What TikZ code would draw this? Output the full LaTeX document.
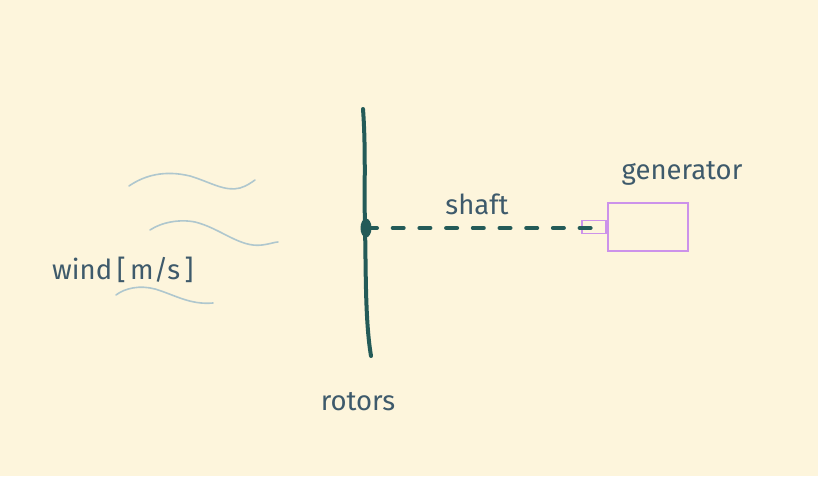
\documentclass[tikz,border=0pt]{standalone}
\usepackage{fontspec}
\setmainfont{Fira Sans}
\usetikzlibrary{shapes.geometric}
\definecolor{bg}{HTML}{FDF5DC}
\definecolor{txt}{HTML}{3E5A6B}
\definecolor{rotorc}{HTML}{245B58}
\definecolor{windc}{HTML}{AFC7CE}
\definecolor{genc}{HTML}{CC92EA}
\begin{document}
\begin{tikzpicture}[x=1pt,y=-1pt,
  lbl/.style={text=txt,font=\fontsize{27.5}{32}\selectfont,inner sep=0pt},
  windline/.style={draw=windc,line width=1.6pt,line cap=round},
  genbox/.style={draw=genc,line width=1.8pt}]
\fill[bg] (0,0) rectangle (818,476);
\useasboundingbox (0,0) rectangle (818,476);
% wind
\draw[windline] (129,186) .. controls (145,175) and (165,170) .. (190,176) .. controls (210,182) and (225,192) .. (240,188) .. controls (247,186) and (252,182) .. (255,180);
\draw[windline] (150,230) .. controls (162,222) and (180,219) .. (195,222) .. controls (220,228) and (240,248) .. (262,245) .. controls (270,244) and (275,242) .. (278,242);
\draw[windline] (116,295) .. controls (125,288) and (140,285) .. (155,289) .. controls (175,295) and (190,305) .. (213,303);
% rotor
\draw[rotorc,line width=4pt,line cap=round] (363,109) .. controls (366,150) and (364,190) .. (365,228) .. controls (366,270) and (365,320) .. (371,356);
\node[ellipse,fill=rotorc,minimum width=11pt,minimum height=19pt,inner sep=0pt] (hub) at (366,228) {};
% generator
\node[genbox,minimum width=80pt,minimum height=48pt,inner sep=0pt] (gen) at (648,227) {};
\node[genbox,minimum width=24pt,minimum height=13pt,inner sep=0pt,anchor=east] (stub) at (gen.west) {};
\coordinate (shaftend) at (591,228);
\draw[rotorc,line width=4pt,line cap=round,dash pattern=on 11pt off 15.7pt] (hub.center) -- (shaftend);
% labels
\node[lbl,anchor=west] (wind) at (52,270) {wind\,[\,m/s\,]};
\node[lbl] (shaft) at (477,204) {shaft};
\node[lbl] (genl) at (682,173) {generator};
\node[lbl] (rot) at (358,402) {rotors};
\end{tikzpicture}
\end{document}
